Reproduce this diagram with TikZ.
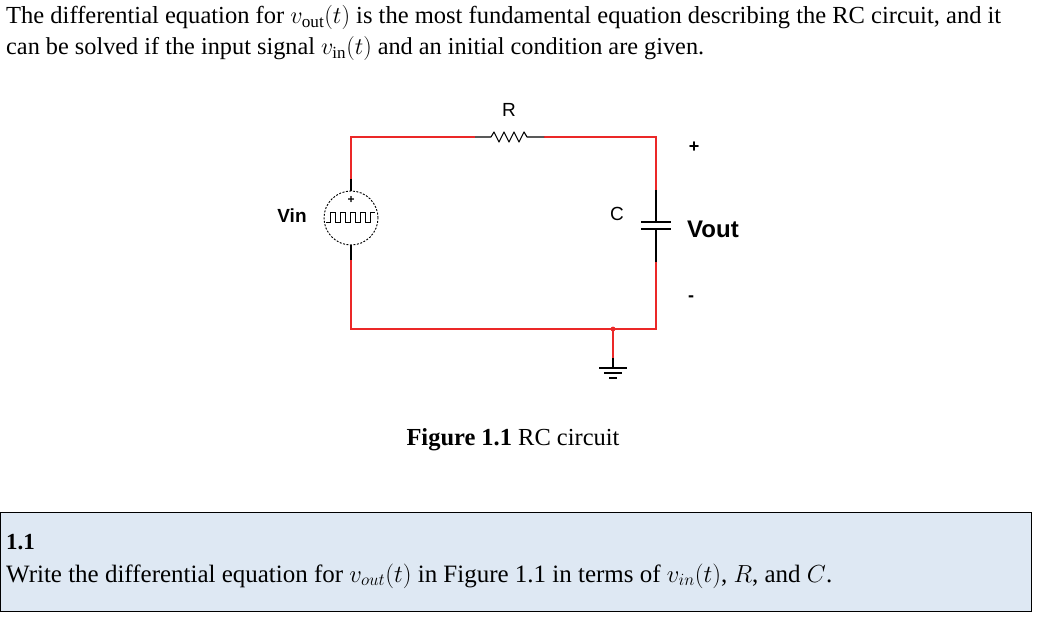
\documentclass[tikz,border=0pt]{standalone}
\usepackage{fontspec}
\setmainfont{Liberation Serif}
\setsansfont{Liberation Sans}
\definecolor{wire}{RGB}{235,40,40}
\definecolor{boxfill}{RGB}{222,232,243}
\tikzset{
  wirel/.style={wire,line width=1.3pt},
  lead/.style={black,line width=1.1pt},
  lbl/.style={font=\sffamily\fontsize{19}{19}\selectfont},
  blbl/.style={font=\sffamily\bfseries\fontsize{19}{19}\selectfont},
  txt/.style={font=\fontsize{21}{21}\selectfont,inner sep=0pt,anchor=base west}
}
\begin{document}
\begin{tikzpicture}[x=1pt,y=-1pt]
\useasboundingbox (0,0) rectangle (1062,636);
% header
\node[txt] (h1) at (6,24) {\resizebox{995pt}{!}{The differential equation for $v_{\mathrm{out}}(t)$ is the most fundamental equation describing the RC circuit, and it}};
\node[txt] (h2) at (6,55) {\resizebox{698pt}{!}{can be solved if the input signal $v_{\mathrm{in}}(t)$ and an initial condition are given.}};
% circuit coordinates
\coordinate (tl) at (351,137);
\coordinate (tr) at (656,137);
\coordinate (bl) at (351,329);
\coordinate (br) at (656,329);
\coordinate (ra) at (475,137);
\coordinate (rb) at (544,137);
\coordinate (gj) at (613,329);
\coordinate (gr) at (613,358);
\coordinate (gb) at (613,368);
\coordinate (st) at (351,179);
\coordinate (sb) at (351,260);
\coordinate (ct) at (656,190);
\coordinate (cb) at (656,262);
\node[circle,draw,dash pattern=on 2pt off 1.5pt,line width=0.9pt,minimum size=54pt,inner sep=0pt] (src) at (351,218) {};
% wires
\draw[wirel] (st) -- (tl) -- (ra);
\draw[wirel] (rb) -- (tr) -- (ct);
\draw[wirel] (cb) -- (br) -- (bl) -- (sb);
\draw[wirel] (gj) -- (gr);
\fill[wire] (gj) circle (2.4pt);
% resistor
\draw[lead,line join=round] (ra) -- (491,137) -- (494,132) -- (499,142) -- (504,132) -- (509,142) -- (514,132) -- (519,142) -- (524,132) -- (527,137) -- (rb);
\node[lbl] (rl) at (509,110) {R};
% source
\draw[lead] (st) -- (src.north);
\draw[lead] (src.south) -- (sb);
\node[font=\sffamily\bfseries\fontsize{12}{12}\selectfont,inner sep=0pt] (sp) at (351,200) {+};
\draw[line width=0.9pt] (326,222) -- (330,222) -- (330,212) -- (335,212) -- (335,222) -- (340,222) -- (340,212) -- (345,212) -- (345,222) -- (350,222) -- (350,212) -- (355,212) -- (355,222) -- (360,222) -- (360,212) -- (365,212) -- (365,222) -- (370,222) -- (370,212) -- (375,212);
\node[blbl] (vin) at (292,216) {Vin};
% capacitor
\draw[lead] (ct) -- (656,222);
\draw[lead] (cb) -- (656,229);
\draw[line width=1.8pt] (641,222) -- (671,222);
\draw[line width=1.8pt] (641,229) -- (671,229);
\node[lbl] (cl) at (617,214) {C};
\node[font=\sffamily\bfseries\fontsize{24}{24}\selectfont] (vout) at (713,229) {Vout};
\node[font=\sffamily\bfseries\fontsize{18}{18}\selectfont] (plus) at (694,147) {+};
\node[font=\sffamily\bfseries\fontsize{18}{18}\selectfont] (minus) at (691,299) {-};
% ground
\draw[lead] (gr) -- (gb);
\draw[lead] (599,368) -- (627,368);
\draw[lead] (604,373) -- (622,373);
\draw[lead] (609,378) -- (617,378);
% caption
\node[txt,anchor=base] (cap) at (513,445) {\resizebox{213pt}{!}{\textbf{Figure 1.1} RC circuit}};
% box
\draw[fill=boxfill,line width=0.8pt] (0,512) rectangle (1031,611);
\node[txt,font=\fontsize{23}{23}\selectfont] (q1) at (6,549) {\textbf{1.1}};
\node[txt] (q2) at (6,582) {\resizebox{826pt}{!}{Write the differential equation for $v_{out}(t)$ in Figure 1.1 in terms of $v_{in}(t)$, $R$, and $C$.}};
\end{tikzpicture}
\end{document}
